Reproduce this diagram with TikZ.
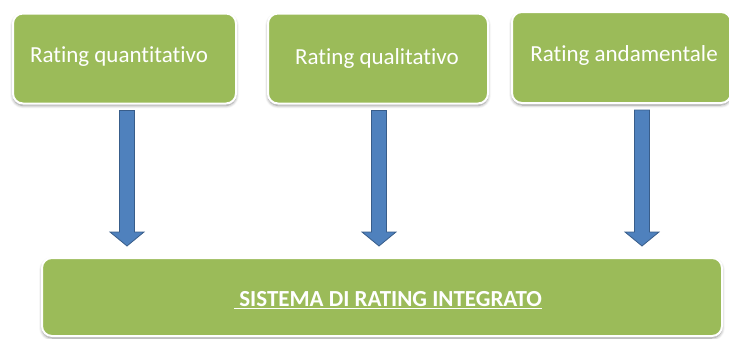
\documentclass[tikz,border=0pt]{standalone}
\usepackage{fontspec}
\setmainfont[Ligatures={NoCommon}]{Carlito}
\usetikzlibrary{calc,shadows.blur}
\definecolor{boxgreen}{HTML}{9BBB59}
\definecolor{arrblue}{HTML}{4F81BD}
\definecolor{arrborder}{HTML}{385D8A}
\tikzset{
  gbox/.style={rectangle, rounded corners=10pt, fill=boxgreen, draw=white, line width=2pt,
    blur shadow={shadow xshift=0pt, shadow yshift=-2pt, shadow blur steps=6, shadow blur radius=3pt, shadow opacity=45}},
  btext/.style={text=white, font=\fontsize{23}{26}\selectfont, inner sep=0pt},
  arrbody/.style={fill=arrblue, draw=arrborder, line width=0.8pt, line join=miter},
}
\newcommand\blockarr[2]{%
  \draw[arrbody] ($(#1)+(-7.5,0)$) -- ($(#2)+(-7.5,-14)$) -- ($(#2)+(-17,-14)$) -- (#2)
    -- ($(#2)+(17,-14)$) -- ($(#2)+(7.5,-14)$) -- ($(#1)+(7.5,0)$) -- cycle;}
\begin{document}
\begin{tikzpicture}[x=1pt,y=-1pt]
\useasboundingbox (0,0) rectangle (729,338);
\node[gbox, minimum width=223pt, minimum height=90pt] (b1) at (124.5,58.5) {};
\node[gbox, minimum width=220pt, minimum height=90pt] (b2) at (378,58.5) {};
\node[gbox, minimum width=219pt, minimum height=91pt] (b3) at (621.5,57.5) {};
\node[gbox, minimum width=680pt, minimum height=78pt] (b4) at (382,297) {};
\node[btext] (t1) at (119,57) {Rating quantitativo};
\node[btext] (t2) at (377,58) {Rating qualitativo};
\node[btext] (t3) at (624,55) {Rating andamentale};
\node[text=white, font=\bfseries\fontsize{23}{26}\selectfont, inner sep=0pt] (t4) at (388,300) {\underline{\ SISTEMA DI RATING INTEGRATO}};
\coordinate (a1s) at ([yshift=-6pt]b1.south -| 127,0);
\coordinate (a1e) at ([yshift=11pt]b4.north -| 127,0);
\coordinate (a2s) at ([yshift=-6pt]b2.south -| 379,0);
\coordinate (a2e) at ([yshift=11pt]b4.north -| 379,0);
\coordinate (a3s) at ([yshift=-6pt]b3.south -| 642,0);
\coordinate (a3e) at ([yshift=11pt]b4.north -| 642,0);
\blockarr{a1s}{a1e}
\blockarr{a2s}{a2e}
\blockarr{a3s}{a3e}
\end{tikzpicture}
\end{document}
